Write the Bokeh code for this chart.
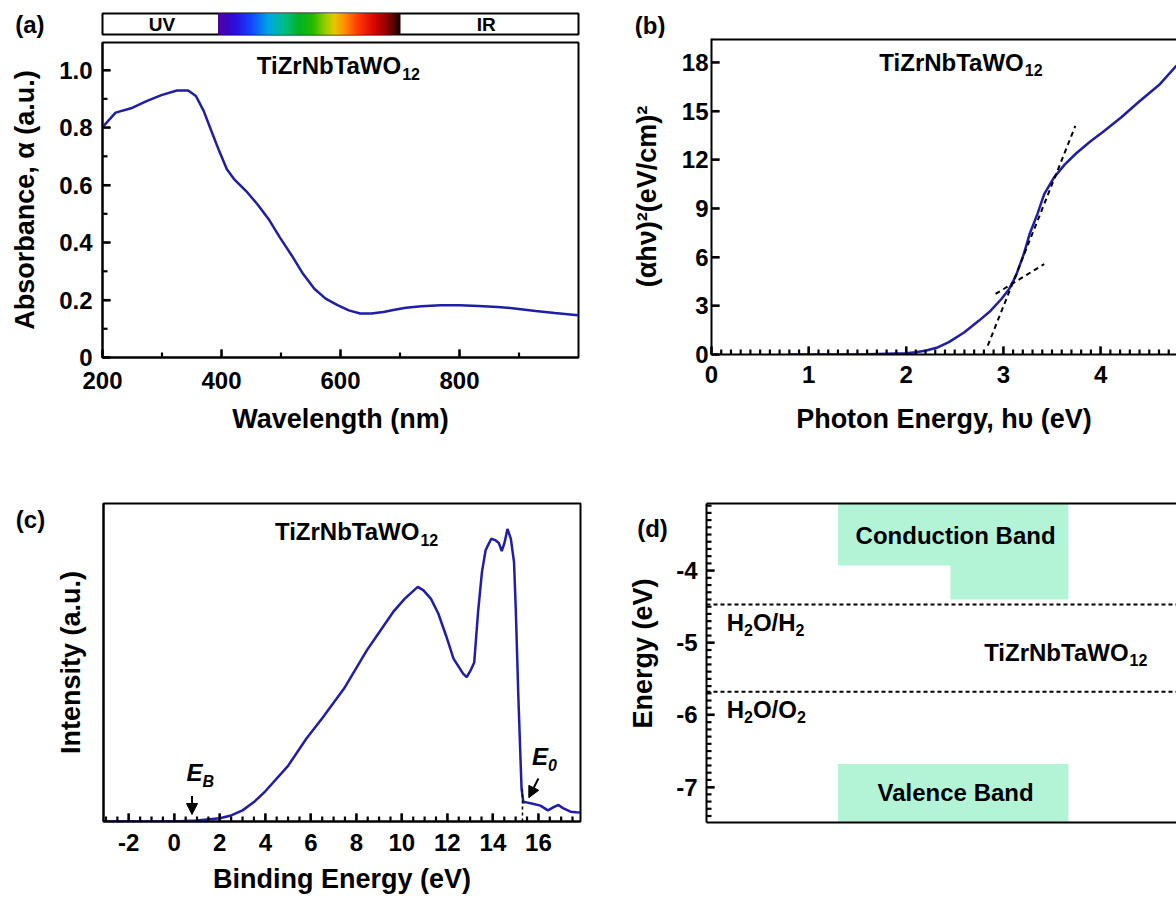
import math
from bokeh.plotting import figure
from bokeh.models import Range1d, LinearAxis, FixedTicker, Label, Arrow, NormalHead
from bokeh.layouts import row, column
from bokeh.embed import file_html
from bokeh.resources import INLINE

FONT = "Liberation Sans"
CURVE = "#1e1eaa"
MINT = "#b4f4d6"

# ---------------- data ----------------
# (a) absorbance spectrum
wavelength_nm = [202, 222, 248, 274, 299, 325, 344, 357, 370, 383, 396, 409, 421, 441, 460, 479,
                 498, 518, 537, 556, 575, 595, 614, 633, 652, 672, 691, 710, 736, 768, 800, 832,
                 864, 896, 928, 960, 999]
absorbance = [0.806, 0.852, 0.867, 0.892, 0.913, 0.929, 0.929, 0.910, 0.858, 0.788, 0.719, 0.655,
              0.621, 0.580, 0.534, 0.482, 0.418, 0.355, 0.291, 0.239, 0.205, 0.182, 0.164, 0.153,
              0.153, 0.158, 0.166, 0.173, 0.178, 0.182, 0.182, 0.179, 0.176, 0.170, 0.162, 0.155, 0.147]
a_xticks = [200, 400, 600, 800]
a_xminor = [300, 500, 700, 900]
a_yticks = [0, 0.2, 0.4, 0.6, 0.8, 1.0]
a_yminor = [0.1, 0.3, 0.5, 0.7, 0.9]
spectrum_band = ["UV", "IR"]

# (b) Tauc plot
photon_energy = [0.80, 1.20, 1.60, 2.00, 2.10, 2.21, 2.33, 2.44, 2.60, 2.75, 2.87, 2.98, 3.06, 3.13,
                 3.21, 3.27, 3.35, 3.42, 3.52, 3.63, 3.75, 3.90, 4.02, 4.21, 4.40, 4.60, 4.78]
ahv_squared = [0.0, 0.0, 0.02, 0.08, 0.14, 0.25, 0.45, 0.76, 1.37, 2.09, 2.70, 3.42, 4.04, 4.86,
               6.19, 7.42, 8.65, 9.88, 10.9, 11.7, 12.4, 13.15, 13.7, 14.6, 15.6, 16.6, 17.8]
tangent_steep_x = [2.84, 3.74]
tangent_steep_y = [0.55, 14.08]
tangent_shallow_x = [2.92, 3.42]
tangent_shallow_y = [3.73, 5.57]
b_xticks = [0, 1, 2, 3, 4]
b_xminor = [round(i * 0.1, 1) for i in range(48) if i % 10]
b_yticks = [0, 3, 6, 9, 12, 15, 18]

# (c) UPS spectrum
binding_energy = [-3.11, -1.0, 0.0, 1.0, 2.0, 2.5, 3.0, 3.5, 4.0, 5.0, 5.8, 6.5, 7.46, 8.46, 9.12,
                  9.62, 10.12, 10.53, 10.7, 10.95, 11.28, 11.6, 11.94, 12.27, 12.69, 12.85, 13.02,
                  13.18, 13.35, 13.52, 13.68, 13.76, 13.93, 14.10, 14.26, 14.39, 14.51, 14.64, 14.79,
                  14.93, 15.01, 15.12, 15.26, 15.34, 15.42, 15.75, 16.09, 16.42, 16.67, 16.88, 17.08,
                  17.41, 17.66, 17.85]
intensity = [0.0, 0.0, 0.0, 0.003, 0.010, 0.019, 0.035, 0.061, 0.095, 0.175, 0.26, 0.325, 0.418,
             0.538, 0.607, 0.659, 0.700, 0.727, 0.738, 0.727, 0.700, 0.654, 0.585, 0.512, 0.465,
             0.454, 0.475, 0.500, 0.660, 0.785, 0.853, 0.865, 0.889, 0.885, 0.876, 0.850, 0.876,
             0.920, 0.889, 0.815, 0.658, 0.390, 0.103, 0.060, 0.061, 0.056, 0.050, 0.035, 0.045,
             0.052, 0.042, 0.031, 0.029, 0.028]
c_xticks = [-2, 0, 2, 4, 6, 8, 10, 12, 14, 16]
c_xminor = [-3 + 0.5 * i for i in range(42) if (-3 + 0.5 * i) % 2]
E_B = 0.78
E_0 = 15.3

# (d) band diagram
redox_levels = [-4.47, -5.68]
cb_edges = [-3.93, -4.40]
vb_edge = -6.68
d_yticks = [-4, -5, -6, -7]
d_yminor = [round(-7.4 + 0.1 * i, 1) for i in range(44) if round(-7.4 + 0.1 * i, 1) not in d_yticks]


# ---------------- helpers ----------------
def make_fig(fw, fh, left, right, top, bottom, xr, yr, outline=True, x_axis=True, y_axis=True,
             title=""):
    kw = {}
    if not x_axis:
        kw["x_axis_location"] = None
    if not y_axis:
        kw["y_axis_location"] = None
    p = figure(frame_width=fw, frame_height=fh, min_border_left=left, min_border_right=right,
               min_border_top=top, min_border_bottom=bottom, title=title,
               x_range=Range1d(*xr), y_range=Range1d(*yr),
               output_backend="svg", toolbar_location=None, tools="", **kw)
    p.xgrid.visible = False
    p.ygrid.visible = False
    p.background_fill_color = "white"
    p.border_fill_color = "white"
    if outline:
        p.outline_line_color = "black"
        p.outline_line_width = 2
        p.outline_line_alpha = 1
    else:
        p.outline_line_color = None
    return p


def canvas_fig(w, h):
    """Blank strip in pixel coordinates (y measured downward from its top) for text outside frames."""
    return make_fig(w, h, 0, 0, 0, 0, (0, w), (h, 0), outline=False, x_axis=False, y_axis=False,
                    title=None)


def side_label(p, text, standoff):
    """Horizontal panel letter carried by an otherwise invisible left axis."""
    ax = p.yaxis[0]
    ax.ticker = FixedTicker(ticks=[])
    ax.axis_line_color = None
    ax.major_tick_line_color = None
    ax.minor_tick_line_color = None
    ax.major_label_standoff = 0
    ax.axis_label = text
    ax.axis_label_orientation = "horizontal"
    ax.axis_label_text_font = FONT
    ax.axis_label_text_font_style = "bold"
    ax.axis_label_text_font_size = "24px"
    ax.axis_label_text_color = "black"
    ax.axis_label_standoff = standoff


def style_axis(ax, label_standoff=8, title_standoff=10):
    ax.axis_line_width = 2
    ax.axis_line_color = "black"
    ax.major_tick_in = 8
    ax.major_tick_out = 0
    ax.minor_tick_in = 0
    ax.minor_tick_out = 0
    ax.major_tick_line_color = "black"
    ax.major_tick_line_width = 2
    ax.minor_tick_line_color = None
    ax.major_label_text_font = FONT
    ax.major_label_text_font_style = "bold"
    ax.major_label_text_font_size = "24px"
    ax.major_label_text_color = "black"
    ax.major_label_standoff = label_standoff
    ax.axis_label_text_font = FONT
    ax.axis_label_text_font_style = "bold"
    ax.axis_label_text_font_size = "27px"
    ax.axis_label_text_color = "black"
    ax.axis_label_standoff = title_standoff


def inward_ticks(p, xr, yr, fw, fh, xt=(), xm=(), yt=(), ym=(), major=8, minor=5):
    """Inward tick marks along the bottom and left frame edges (lengths in pixels)."""
    ypx = (yr[1] - yr[0]) / fh
    xpx = (xr[1] - xr[0]) / fw
    for vals, ln in ((xt, major), (xm, minor)):
        vals = [float(v) for v in vals]
        if vals:
            p.segment(x0=vals, y0=[yr[0]] * len(vals), x1=list(vals),
                      y1=[yr[0] + ln * ypx] * len(vals),
                      line_color="black", line_width=2.2, level="overlay")
    for vals, ln in ((yt, major), (ym, minor)):
        vals = [float(v) for v in vals]
        if vals:
            p.segment(x0=[xr[0]] * len(vals), y0=vals, x1=[xr[0] + ln * xpx] * len(vals),
                      y1=list(vals), line_color="black", line_width=2.2, level="overlay")


def label(p, x, y, text, size=24, align="center", baseline="middle", style="bold", xo=0, yo=0,
          angle=0.0):
    p.add_layout(Label(x=x, y=y, text=text, text_font=FONT, text_font_size=f"{size}px",
                       text_font_style=style, text_align=align, text_baseline=baseline,
                       x_offset=xo, y_offset=yo, angle=angle, text_color="black"))


def formula(p, x, y, main="TiZrNbTaWO", sub="12"):
    label(p, x, y, main, 24, align="right")
    label(p, x, y, sub, 16, align="left", xo=1, yo=-8)


WIDTHS = {"H": .722, "O": .778, "/": .278, "2": .556}


def compose(p, x, y, parts):
    off = 0
    for text, size, dy in parts:
        label(p, x, y, text, size, align="left", xo=off, yo=dy)
        off += sum(WIDTHS[c] for c in text) * size


def top_line(p):
    ax = LinearAxis(ticker=FixedTicker(ticks=[]), axis_line_width=2, axis_line_color="black",
                    major_tick_line_color=None, minor_tick_line_color=None,
                    major_tick_in=0, major_tick_out=0, minor_tick_in=0, minor_tick_out=0,
                    major_label_standoff=0)
    p.add_layout(ax, "above")


def ascii_minus(ticks):
    return {t: str(t).replace(".0", "") for t in ticks if t < 0}


# ---------------- spectrum bar ----------------
bar = make_fig(476, 21, 102, 10, 13, 6, (200, 1000), (0, 1), x_axis=False)
stops = [(395, (80, 0, 160)), (425, (45, 15, 225)), (450, (20, 70, 255)), (480, (0, 165, 230)),
         (505, (0, 190, 140)), (530, (0, 180, 40)), (555, (40, 185, 0)), (575, (150, 205, 0)),
         (590, (230, 200, 0)), (605, (255, 150, 0)), (630, (255, 60, 0)), (655, (220, 10, 0)),
         (680, (140, 0, 0)), (700, (30, 0, 0))]


def spec_color(w):
    for (w0, c0), (w1, c1) in zip(stops[:-1], stops[1:]):
        if w0 <= w <= w1:
            t = (w - w0) / (w1 - w0)
            r, g, b = (int(round(c0[i] + t * (c1[i] - c0[i]))) for i in range(3))
            return "#%02x%02x%02x" % (r, g, b)
    return "#000000"


lefts = list(range(395, 700, 1))
cols = [spec_color(l + 0.5) for l in lefts]
bar.quad(left=lefts, right=[l + 1 for l in lefts], bottom=0, top=1,
         fill_color=cols, line_color=cols, line_width=1)
label(bar, 300, 0.5, spectrum_band[0], 19)
label(bar, 845, 0.5, spectrum_band[1], 19)
side_label(bar, "(a)", 58)

# ---------------- (a) ----------------
a_xr, a_yr = (200, 1000), (0, 1.096)
pa = make_fig(476, 315, 102, 10, 2, 92, a_xr, a_yr)
pa.line(wavelength_nm, absorbance, line_color=CURVE, line_width=2.5)
pa.xaxis.ticker = FixedTicker(ticks=a_xticks)
pa.yaxis.ticker = FixedTicker(ticks=a_yticks)
pa.yaxis.major_label_overrides = {0: "0", 1.0: "1.0"}
style_axis(pa.xaxis[0], 14, 12)
style_axis(pa.yaxis[0], 10, 16)
pa.xaxis.axis_label = "Wavelength (nm)"
pa.yaxis.axis_label = "Absorbance, α (a.u.)"
inward_ticks(pa, a_xr, a_yr, 476, 315, a_xticks, a_xminor, a_yticks, a_yminor)
formula(pa, 702, 1.015)

# ---------------- (b) ----------------
top_b = make_fig(465, 26, 123, 0, 12, 0, (0, 1), (0, 1), outline=False, x_axis=False)
side_label(top_b, "(b)", 46)

b_xr, b_yr = (0, 4.78), (0, 19.47)
pb = make_fig(465, 316, 123, 0, 0, 95, b_xr, b_yr, outline=False)
pb.line([b_xr[0], b_xr[1]], [b_yr[1], b_yr[1]], line_color="black", line_width=4)
pb.line(photon_energy, ahv_squared, line_color=CURVE, line_width=2.5)
pb.line(tangent_steep_x, tangent_steep_y, line_color="black", line_width=2, line_dash="5 4")
pb.line(tangent_shallow_x, tangent_shallow_y, line_color="black", line_width=2, line_dash="5 4")
pb.xaxis.ticker = FixedTicker(ticks=b_xticks)
pb.yaxis.ticker = FixedTicker(ticks=b_yticks)
style_axis(pb.xaxis[0], 11, 18)
style_axis(pb.yaxis[0], 3, 17)
pb.xaxis.axis_label = "Photon Energy, hυ (eV)"
pb.yaxis.axis_label = "(αhν)²(eV/cm)²"
inward_ticks(pb, b_xr, b_yr, 465, 316, b_xticks, b_xminor, b_yticks, [])
formula(pb, 3.21, 18.0)

# ---------------- (c) ----------------
side_c = canvas_fig(50, 449)
label(side_c, 30, 16, "(c)", 24)

c_xr, c_yr = (-3.11, 17.85), (0, 1)
pc = make_fig(477, 318, 53, 8, 53, 78, c_xr, c_yr)
pc.line(binding_energy, intensity, line_color=CURVE, line_width=2.5)
pc.line([E_0, E_0], [0, 0.10], line_color="black", line_width=1.5, line_dash="3 3")
pc.xaxis.ticker = FixedTicker(ticks=c_xticks)
pc.xaxis.major_label_overrides = ascii_minus(c_xticks)
pc.yaxis.ticker = FixedTicker(ticks=[])
style_axis(pc.xaxis[0], 12, 10)
style_axis(pc.yaxis[0], 0, 18)
pc.xaxis.axis_label = "Binding Energy (eV)"
pc.yaxis.axis_label = "Intensity (a.u.)"
inward_ticks(pc, c_xr, c_yr, 477, 318, c_xticks, c_xminor, [], [])
formula(pc, 10.77, 0.911)
pc.add_layout(Arrow(end=NormalHead(size=11, fill_color="black", line_color="black"),
                    x_start=E_B, y_start=0.080, x_end=E_B, y_end=0.022,
                    line_color="black", line_width=2))
pc.add_layout(Arrow(end=NormalHead(size=11, fill_color="black", line_color="black"),
                    x_start=16.0, y_start=0.135, x_end=15.58, y_end=0.075,
                    line_color="black", line_width=2))
label(pc, 1.24, 0.155, "E", 24, align="right", style="bold italic")
label(pc, 1.24, 0.155, "B", 16, align="left", style="bold italic", xo=0, yo=-9)
label(pc, 16.42, 0.205, "E", 24, align="right", style="bold italic")
label(pc, 16.42, 0.205, "0", 16, align="left", style="bold italic", xo=0, yo=-9)

# ---------------- (d) ----------------
side_d = canvas_fig(84, 449)
label(side_d, 64, 25, "(d)", 24)
label(side_d, 54, 150, "Energy (eV)", 27, angle=math.pi / 2)

d_xr, d_yr = (0, 10), (-7.49, -3.07)
pd = make_fig(470, 319, 34, 0, 54, 76, d_xr, d_yr, outline=False)
cb_x = [2.8, 7.7, 7.7, 5.19, 5.19, 2.8]
cb_y = [d_yr[1], d_yr[1], cb_edges[1], cb_edges[1], cb_edges[0], cb_edges[0]]
pd.patch(cb_x, cb_y, fill_color=MINT, line_color=None)
pd.quad(left=[2.8], right=[7.7], bottom=[d_yr[0]], top=[vb_edge], fill_color=MINT, line_color=None)
for lvl in redox_levels:
    pd.line([0, 10], [lvl, lvl], line_color="black", line_width=2, line_dash="4 3")
pd.xaxis.ticker = FixedTicker(ticks=[])
pd.yaxis.ticker = FixedTicker(ticks=d_yticks)
pd.yaxis.major_label_overrides = ascii_minus(d_yticks)
style_axis(pd.xaxis[0], 0, 0)
style_axis(pd.yaxis[0], 9, 0)
inward_ticks(pd, d_xr, d_yr, 470, 319, [], [], d_yticks, d_yminor)
top_line(pd)
label(pd, 5.30, -3.51, "Conduction Band", 24)
label(pd, 5.30, -7.08, "Valence Band", 24)
compose(pd, 0.43, -4.72, [("H", 24, 0), ("2", 16, -7), ("O/H", 24, 0), ("2", 16, -7)])
compose(pd, 0.43, -5.93, [("H", 24, 0), ("2", 16, -7), ("O/", 24, 0), ("O", 24, 0), ("2", 16, -7)])
formula(pd, 8.98, -5.13)

layout = column(row(column(bar, pa), column(top_b, pb)), row(side_c, pc, side_d, pd))
open("out.html", "w").write(file_html(layout, INLINE))
